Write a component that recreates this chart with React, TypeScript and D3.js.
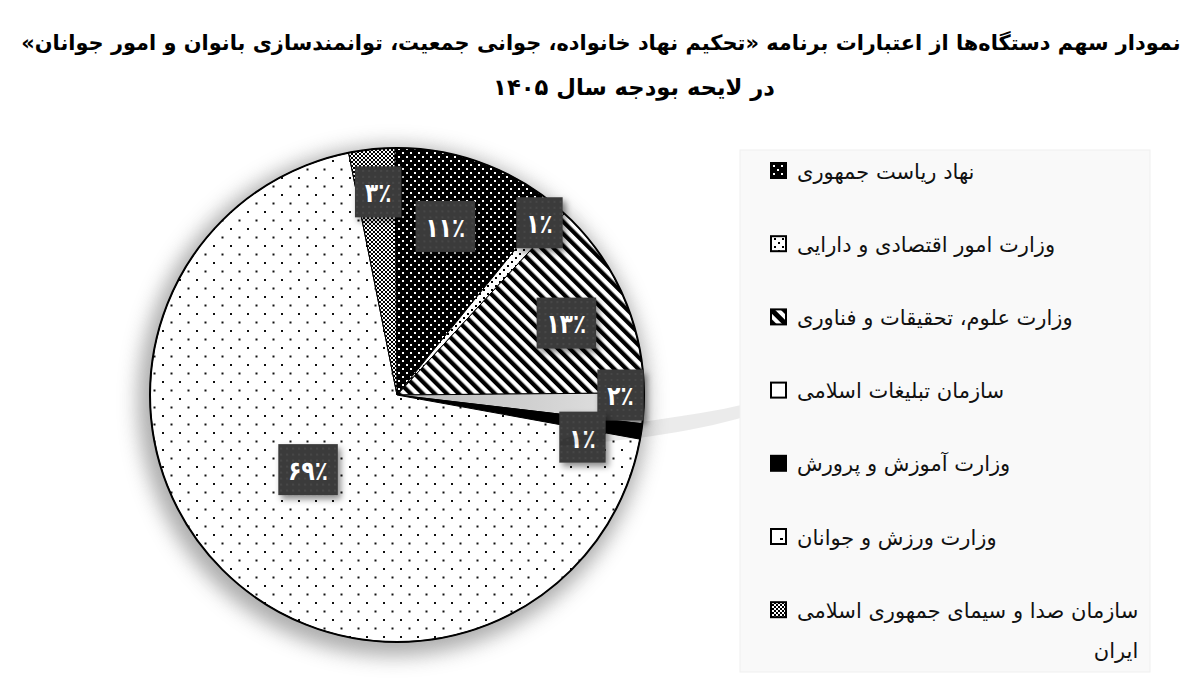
import React, { useEffect, useRef } from 'react';
import * as d3 from 'd3';

const titleLines = [
  'نمودار سهم دستگاه‌ها از اعتبارات برنامه «تحکیم نهاد خانواده، جوانی جمعیت، توانمندسازی بانوان و امور جوانان»',
  'در لایحه بودجه سال ۱۴۰۵',
];
const categories = [
  'نهاد ریاست جمهوری',
  'وزارت امور اقتصادی و دارایی',
  'وزارت علوم، تحقیقات و فناوری',
  'سازمان تبلیغات اسلامی',
  'وزارت آموزش و پرورش',
  'وزارت ورزش و جوانان',
  'سازمان صدا و سیمای جمهوری اسلامی ایران',
];
const values = [11, 1, 13, 2, 1, 69, 3];

// layout / style (not data)
const sliceFills = ['url(#pDarkDots)', 'url(#pLightDots)', 'url(#pStripes)', 'url(#gGray)', '#000', 'url(#pSparse)', 'url(#pChecker)'];
const swatchFills = ['url(#pDarkDots)', 'url(#pLightDots)', 'url(#pStripesS)', '#fff', '#000', 'url(#pSparseS)', 'url(#pChecker)'];
const labelAngleShift = [-3.3, -1.3, 0.9, -3.1, 4.3, 5.5, 0.6];
const labelRadiusFrac = [0.71, 0.905, 0.745, 0.905, 0.77, 0.47, 0.826];

const toFa = (s: string) => s.replace(/[0-9]/g, (d) => '۰۱۲۳۴۵۶۷۸۹'[+d]);

export default function App() {
  const ref = useRef<SVGSVGElement>(null);
  useEffect(() => {
    const svg = d3.select(ref.current);
    svg.selectAll('*').remove();
    const defs = svg.append('defs');

    const pd = defs.append('pattern').attr('id', 'pDarkDots').attr('patternUnits', 'userSpaceOnUse').attr('width', 8).attr('height', 8);
    pd.append('rect').attr('width', 8).attr('height', 8).attr('fill', '#000');
    pd.append('rect').attr('x', 1).attr('y', 1).attr('width', 2).attr('height', 2).attr('fill', '#fff');
    pd.append('rect').attr('x', 5).attr('y', 5).attr('width', 2).attr('height', 2).attr('fill', '#fff');

    const pl = defs.append('pattern').attr('id', 'pLightDots').attr('patternUnits', 'userSpaceOnUse').attr('width', 8).attr('height', 8);
    pl.append('rect').attr('width', 8).attr('height', 8).attr('fill', '#fff');
    pl.append('rect').attr('x', 2).attr('y', 2).attr('width', 2).attr('height', 2).attr('fill', '#000');
    pl.append('rect').attr('x', 6).attr('y', 6).attr('width', 2).attr('height', 2).attr('fill', '#000');

    const ps = defs.append('pattern').attr('id', 'pStripes').attr('patternUnits', 'userSpaceOnUse').attr('width', 8.5).attr('height', 8.5).attr('patternTransform', 'rotate(-45)');
    ps.append('rect').attr('width', 8.5).attr('height', 8.5).attr('fill', '#fff');
    ps.append('rect').attr('width', 4.2).attr('height', 8.5).attr('fill', '#000');

    const pss = defs.append('pattern').attr('id', 'pStripesS').attr('patternUnits', 'userSpaceOnUse').attr('width', 9).attr('height', 9).attr('patternTransform', 'rotate(-45)');
    pss.append('rect').attr('width', 9).attr('height', 9).attr('fill', '#fff');
    pss.append('rect').attr('width', 5).attr('height', 9).attr('fill', '#000');

    const pw = defs.append('pattern').attr('id', 'pSparse').attr('patternUnits', 'userSpaceOnUse').attr('width', 17).attr('height', 17);
    pw.append('rect').attr('width', 17).attr('height', 17).attr('fill', '#fff');
    pw.append('rect').attr('x', 3).attr('y', 3).attr('width', 2).attr('height', 2).attr('fill', '#111');
    pw.append('rect').attr('x', 11.5).attr('y', 11.5).attr('width', 2).attr('height', 2).attr('fill', '#111');

    const pws = defs.append('pattern').attr('id', 'pSparseS').attr('patternUnits', 'userSpaceOnUse').attr('width', 14).attr('height', 14).attr('x', 770).attr('y', 0);
    pws.append('rect').attr('width', 14).attr('height', 14).attr('fill', '#fff');
    pws.append('rect').attr('x', 10).attr('y', 6).attr('width', 3).attr('height', 2).attr('fill', '#000');

    const pc = defs.append('pattern').attr('id', 'pChecker').attr('patternUnits', 'userSpaceOnUse').attr('width', 4).attr('height', 4);
    pc.append('rect').attr('width', 4).attr('height', 4).attr('fill', '#fff');
    pc.append('rect').attr('width', 2).attr('height', 2).attr('fill', '#000');
    pc.append('rect').attr('x', 2).attr('y', 2).attr('width', 2).attr('height', 2).attr('fill', '#000');

    const pb = defs.append('pattern').attr('id', 'pBox').attr('patternUnits', 'userSpaceOnUse').attr('width', 6).attr('height', 6);
    pb.append('rect').attr('width', 6).attr('height', 6).attr('fill', '#3b3b3b');
    pb.append('rect').attr('x', 2).attr('y', 2).attr('width', 2).attr('height', 2).attr('fill', '#474747');

    const gg = defs.append('linearGradient').attr('id', 'gGray').attr('x1', '0%').attr('x2', '100%').attr('y1', '0%').attr('y2', '0%');
    gg.append('stop').attr('offset', '0%').attr('stop-color', '#b9b9b9');
    gg.append('stop').attr('offset', '100%').attr('stop-color', '#e4e4e4');

    const blur = defs.append('filter').attr('id', 'glow').attr('x', '-20%').attr('y', '-20%').attr('width', '140%').attr('height', '140%');
    blur.append('feGaussianBlur').attr('stdDeviation', 10);

    const shadow = defs.append('filter').attr('id', 'boxShadow').attr('x', '-30%').attr('y', '-30%').attr('width', '170%').attr('height', '170%');
    shadow.append('feDropShadow').attr('dx', 3).attr('dy', 4).attr('stdDeviation', 3).attr('flood-color', '#000').attr('flood-opacity', 0.45);

    // Title: size each line so its natural width fits the target width
    const titleG = svg.append('g').attr('font-family', '"DejaVu Sans", sans-serif').attr('font-weight', 'bold');
    const tl = [
      { x: 601, y: 50, len: 1160 },
      { x: 634, y: 95, len: 282 },
    ];
    titleLines.forEach((t, i) => {
      const te = titleG.append('text')
        .attr('x', tl[i].x).attr('y', tl[i].y)
        .attr('text-anchor', 'middle').attr('direction', 'rtl')
        .attr('font-size', 25)
        .attr('fill', '#000')
        .text(t);
      const w = (te.node() as SVGTextElement).getComputedTextLength();
      const fsz = Math.min(26, (25 * tl[i].len) / w);
      te.attr('font-size', fsz.toFixed(2));
    });

    // Pie
    const cx = 397, cy = 395, R = 247;
    const total = d3.sum(values);
    const startA = (-0.5 * Math.PI) / 180;
    const pie = d3.pie<number>().sort(null).value((d) => d).startAngle(startA).endAngle(startA + 2 * Math.PI);
    const arcs = pie(values);
    const arc = d3.arc<d3.PieArcDatum<number>>().innerRadius(0).outerRadius(R);

    const pg = svg.append('g').attr('transform', `translate(${cx},${cy})`);
    pg.append('circle').attr('cx', -4).attr('cy', 6).attr('r', R + 8).attr('fill', '#8a8a8a').attr('opacity', 0.7).attr('filter', 'url(#glow)');
    pg.selectAll('path.slice').data(arcs).join('path')
      .attr('class', 'slice')
      .attr('d', arc as any)
      .attr('fill', (_, i) => sliceFills[i])
      .attr('stroke', '#000').attr('stroke-width', 1).attr('stroke-linejoin', 'round');
    pg.append('circle').attr('r', R).attr('fill', 'none').attr('stroke', '#000').attr('stroke-width', 2);

    // faint watermark swoosh
    svg.append('path')
      .attr('d', 'M560,440 C620,420 700,418 760,400 C780,394 800,386 815,378 C800,392 780,404 760,412 C700,432 630,440 560,446 Z')
      .attr('fill', '#000').attr('opacity', 0.08);

    // Labels
    const lg = pg.append('g').attr('font-family', '"DejaVu Sans", sans-serif').attr('font-weight', 'bold');
    const sx = 0.8;
    arcs.forEach((a, i) => {
      const mid = (a.startAngle + a.endAngle) / 2 + (labelAngleShift[i] * Math.PI) / 180;
      const r = R * labelRadiusFrac[i];
      const x = Math.sin(mid) * r;
      const y = -Math.cos(mid) * r;
      const g = lg.append('g').attr('transform', `translate(${x},${y})`);
      const rect = g.append('rect').attr('fill', 'url(#pBox)').attr('filter', 'url(#boxShadow)');
      const pct = Math.round((values[i] / total) * 100);
      const t = g.append('text').attr('text-anchor', 'middle').attr('dominant-baseline', 'central')
        .attr('font-size', 27).attr('fill', '#fff').attr('direction', 'ltr').attr('y', 1)
        .attr('transform', `scale(${sx},1)`)
        .text(toFa(String(pct)) + '٪');
      const w = (t.node() as SVGTextElement).getComputedTextLength() * sx;
      const bw = w + 20, bh = 51;
      rect.attr('x', -bw / 2).attr('y', -bh / 2).attr('width', bw).attr('height', bh);
    });

    // Legend
    const lgx = 740, lgy = 150, lgw = 410, lgh = 522;
    const leg = svg.append('g');
    leg.append('rect').attr('x', lgx).attr('y', lgy).attr('width', lgw).attr('height', lgh).attr('fill', '#f9f9f9').attr('stroke', '#efefef');
    const step = 73.2;
    const maxW = 340;
    const fs = 21;
    categories.forEach((c, i) => {
      const yc = 170.5 + i * step;
      leg.append('rect').attr('x', 771).attr('y', yc - 7.5).attr('width', 15).attr('height', 15)
        .attr('fill', swatchFills[i]).attr('stroke', '#000').attr('stroke-width', 2);
      const txt = leg.append('text').attr('font-family', '"DejaVu Sans", sans-serif').attr('font-size', fs)
        .attr('fill', '#111').attr('direction', 'rtl').attr('text-anchor', 'end')
        .attr('x', 797).attr('y', yc + 8).text(c);
      const w = (txt.node() as SVGTextElement).getComputedTextLength();
      if (w > maxW) {
        const words = c.split(' ');
        const line = words.slice(0, -1).join(' ');
        const rest = words[words.length - 1];
        txt.text(line);
        const w1 = (txt.node() as SVGTextElement).getComputedTextLength();
        leg.append('text').attr('font-family', '"DejaVu Sans", sans-serif').attr('font-size', fs)
          .attr('fill', '#111').attr('direction', 'rtl').attr('text-anchor', 'start')
          .attr('x', 797 + w1).attr('y', yc + 48).text(rest);
      }
    });
  }, []);
  return (
    <svg ref={ref} width={1200} height={682} style={{ display: 'block', position: 'absolute', left: 0, top: 0, background: '#fff' }} />
  );
}
